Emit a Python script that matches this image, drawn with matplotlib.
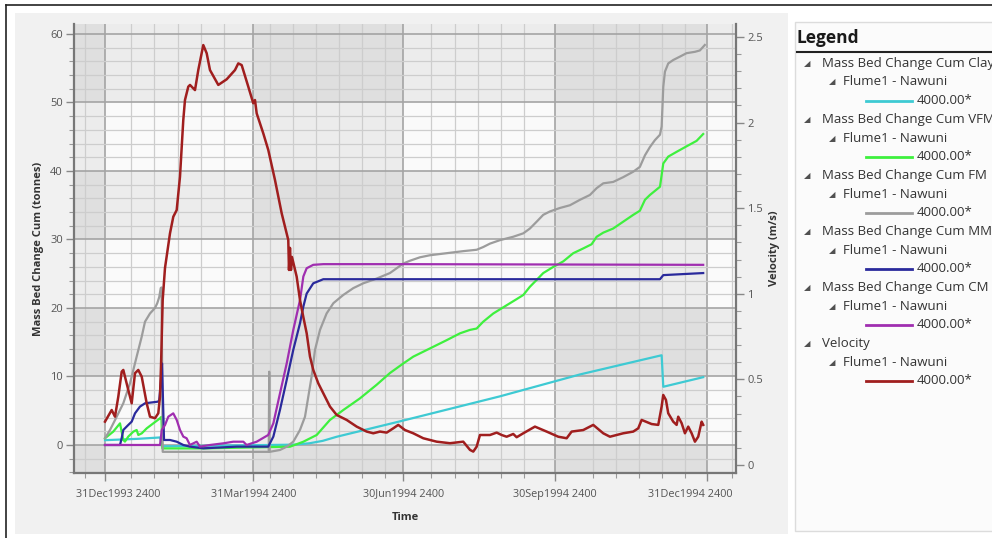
import numpy as np
import matplotlib
matplotlib.use("Agg")
import matplotlib.pyplot as plt
import matplotlib.dates as mdates
from matplotlib.patches import Rectangle
from matplotlib.lines import Line2D
from matplotlib.ticker import FixedLocator, MultipleLocator, FuncFormatter
import datetime as dt

plt.rcParams['font.family'] = ['Open Sans', 'DejaVu Sans']

# ---------------- data (days after 31Dec1993 2400) ----------------
clay_day = [0, 10, 20, 33.5, 34.5, 100, 115, 124, 132, 140.5, 178.9, 239.5, 288.1, 337.6, 338.6, 362.8]
clay = [0.7, 0.8, 0.9, 1.1, -0.2, 0.0, 0.05, 0.25, 0.6, 1.2, 3.45, 7.1, 10.3, 13.1, 8.5, 9.9]

vfm_day = [0, 5.0, 9.1, 10.1, 11.1, 12.1, 14.1, 17.2, 19.2, 20.2, 22.3, 25.3, 29.3, 33.4, 34.2,
           34.8, 60, 100, 112.2, 120.3, 128.4, 136.4, 144.5, 154.6, 164.8, 172.8, 180.9, 187.0,
           197.1, 207.2, 215.3, 221.3, 225.4, 229.4, 235.5, 243.6, 249.7, 253.7, 257.7, 261.8,
           265.8, 271.9, 277.9, 284.0, 290.1, 295.1, 298.2, 302.2, 308.2, 314.3, 320.4, 324.4,
           327.5, 330.5, 336.6, 338.6, 341.6, 346.7, 352.7, 358.8, 362.8]
vfm = [0.98, 1.95, 3.16, 1.95, 0.73, 0.49, 1.22, 1.95, 2.19, 1.46, 1.70, 2.43, 3.16, 3.90, 4.1,
       -0.5, -0.5, -0.3, -0.25, 0.48, 1.46, 3.65, 5.1, 6.8, 8.8, 10.5, 11.9, 12.9,
       14.1, 15.3, 16.3, 16.8, 17.0, 18.0, 19.2, 20.4, 21.3, 21.9, 23.1, 24.1,
       25.1, 26.0, 26.8, 28.0, 28.7, 29.3, 30.4, 31.0, 31.6, 32.6, 33.6, 34.2,
       35.8, 36.5, 37.7, 41.1, 42.1, 42.8, 43.6, 44.4, 45.4]

fm_day = [0, 3.03, 7.1, 11.1, 15.16, 19.2, 22.26, 24.26, 27.29, 30.32, 31.7, 32.9, 33.8, 34.3, 35.0,
          99.3, 99.6, 99.9, 106.1, 110.2, 114.2, 118.25, 121.3, 123.3, 125.3, 127.35, 130.4, 134.4,
          138.5, 144.5, 150.6, 156.6, 164.8, 172.8, 176.9, 180.9, 185.0, 191.0, 197.1, 207.2, 217.3,
          225.4, 229.4, 233.5, 239.5, 247.6, 253.7, 257.7, 261.8, 265.8, 269.9, 275.9, 282.0, 288.1,
          294.1, 298.2, 302.2, 308.2, 314.3, 320.4, 324.4, 327.5, 330.5, 333.5, 336.6, 337.6, 338.6,
          339.6, 341.6, 344.6, 348.7, 352.7, 357.8, 360.8, 363.8]
fm = [0.98, 2.19, 4.13, 6.09, 9.0, 12.9, 15.8, 18.0, 19.2, 20.0, 20.7, 21.6, 22.9, 23.0, -1.0,
      -1.0, 10.7, -1.0, -0.73, -0.25, 0.48, 2.19, 4.13, 7.05, 9.97, 13.87, 16.8, 19.2,
      20.7, 21.9, 22.9, 23.6, 24.3, 25.1, 25.8, 26.5, 26.9, 27.4, 27.7, 28.0, 28.3,
      28.5, 28.9, 29.4, 29.9, 30.4, 30.9, 31.6, 32.6, 33.6, 34.1, 34.6, 35.0, 35.8,
      36.5, 37.5, 38.2, 38.4, 39.1, 39.9, 40.6, 42.3, 43.5, 44.5, 45.3, 46.5, 52.3,
      54.5, 55.7, 56.2, 56.7, 57.2, 57.4, 57.6, 58.4]

mm_day = [0, 9.1, 10.1, 11.1, 14.1, 16.2, 18.2, 21.2, 24.3, 32.3, 32.9, 33.8, 34.6, 35.8, 39.4,
          43.5, 47.5, 51.5, 59.6, 79.9, 99.0, 102.1, 106.1, 110.2, 114.2, 118.3, 120.3, 122.3,
          126.3, 132.4, 178.9, 336.6, 338.6, 362.8]
mm = [0, 0, 0.98, 2.19, 2.92, 3.41, 4.62, 5.6, 6.09, 6.33, 6.57, 9.0, 11.9, 0.73, 0.73,
      0.48, 0, -0.24, -0.49, -0.24, -0.24, 1.22, 5.1, 9.5, 13.9, 17.8, 20.2, 22.1,
      23.6, 24.2, 24.2, 24.2, 24.8, 25.1]

cm_day = [0, 33.4, 34.4, 36.4, 38.4, 41.4, 43.5, 45.5, 47.5, 49.5, 51.5, 55.6, 57.6, 63.7, 71.7,
          77.8, 83.9, 85.9, 92.0, 99.0, 102.1, 106.1, 110.2, 114.2, 118.3, 120.3, 122.3, 126.3,
          132.4, 178.9, 362.8]
cm = [0, 0, 2.19, 2.92, 4.13, 4.62, 3.65, 2.19, 1.22, 0.98, 0, 0.48, -0.24, 0, 0.24,
      0.48, 0.48, 0, 0.48, 1.46, 3.16, 7.5, 11.9, 16.8, 21.2, 24.6, 25.8, 26.3,
      26.4, 26.4, 26.3]

vel_day = [0, 4.06, 6.06, 8.07, 10.13, 11.10, 14.13, 16.19, 18.19, 20.19, 22.26, 25.29, 27.29,
           30.32, 32.32, 33.35, 33.96, 34.99, 36.39, 39.42, 41.42, 43.48, 45.48, 47.48, 48.51,
           50.52, 51.55, 53.55, 54.58, 56.58, 59.61, 61.67, 63.67, 68.71, 73.80, 78.84, 80.84,
           82.90, 86.90, 89.93, 90.96, 92.00, 96.00, 99.03, 103.09, 107.16, 111.16, 111.58,
           112.19, 112.80, 113.40, 116.25, 118.25, 120.25, 122.32, 124.32, 126.32, 129.35,
           132.38, 136.45, 140.51, 146.57, 152.64, 158.70, 162.71, 166.77, 170.83, 174.83,
           177.87, 181.93, 186.96, 193.03, 201.15, 209.22, 217.28, 221.35, 223.35, 225.41,
           227.41, 233.48, 237.54, 240.57, 243.60, 247.60, 249.67, 253.67, 260.76, 267.86,
           274.89, 279.99, 283.02, 290.05, 296.12, 302.18, 306.25, 314.31, 320.38, 323.41,
           325.47, 331.53, 335.54, 337.60, 338.57, 340.21, 341.60, 344.63, 346.69, 347.66,
           349.73, 351.73, 353.73, 355.79, 357.79, 359.79, 361.85, 362.82]
vel = [0.253, 0.321, 0.282, 0.399, 0.545, 0.555, 0.438, 0.360, 0.536, 0.555, 0.516, 0.360, 0.282,
       0.273, 0.302, 0.399, 0.574, 0.964, 1.151, 1.353, 1.450, 1.489, 1.684, 2.015, 2.132,
       2.210, 2.220, 2.200, 2.190, 2.307, 2.453, 2.405, 2.307, 2.220, 2.253, 2.307, 2.346,
       2.336, 2.210, 2.113, 2.132, 2.054, 1.937, 1.840, 1.665, 1.470, 1.314, 1.139,
       1.268, 1.139, 1.215, 1.100, 0.964, 0.866, 0.769, 0.633, 0.555, 0.477,
       0.419, 0.341, 0.292, 0.263, 0.224, 0.195, 0.185, 0.195, 0.189, 0.214,
       0.234, 0.204, 0.185, 0.156, 0.136, 0.127, 0.136, 0.088, 0.078, 0.107,
       0.175, 0.175, 0.189, 0.175, 0.165, 0.181, 0.162, 0.185, 0.224, 0.195,
       0.165, 0.156, 0.195, 0.204, 0.234, 0.185, 0.165, 0.185, 0.195, 0.214,
       0.263, 0.239, 0.234, 0.341, 0.409, 0.380, 0.302, 0.253, 0.234, 0.282,
       0.244, 0.185, 0.224, 0.185, 0.136, 0.165, 0.253, 0.234]

xtick_dates = [dt.datetime(1994, 1, 1), dt.datetime(1994, 4, 1), dt.datetime(1994, 7, 1),
               dt.datetime(1994, 10, 1), dt.datetime(1995, 1, 1)]
xtick_labels = ["31Dec1993 2400", "31Mar1994 2400", "30Jun1994 2400", "30Sep1994 2400", "31Dec1994 2400"]

legend_groups = ["Mass Bed Change Cum Clay", "Mass Bed Change Cum VFM", "Mass Bed Change Cum FM",
                 "Mass Bed Change Cum MM", "Mass Bed Change Cum CM", "Velocity"]
legend_sub = "Flume1 - Nawuni"
legend_val = "4000.00*"

colors = ['#3ecad3', '#3ef03e', '#9c9c9c', '#2a2a9c', '#a02eb0', '#a01e1e']

# ---------------- figure ----------------
W, H = 992, 538
START = dt.datetime(1994, 1, 1)
BASE = mdates.date2num(START)


def to_num(days):
    return BASE + np.asarray(days, float)


fig = plt.figure(figsize=(W / 100, H / 100), dpi=100)
fig.patch.set_facecolor('white')


def px_rect(x0, y0, x1, y1, **kw):
    fig.add_artist(Rectangle((x0 / W, 1 - y1 / H), (x1 - x0) / W, (y1 - y0) / H,
                             transform=fig.transFigure, **kw))


px_rect(15, 13, 788, 534, facecolor='#f1f1f1', edgecolor='none', zorder=0)
px_rect(795, 22, 1000, 531, facecolor='#fbfbfb', edgecolor='#dcdcdc', lw=1, zorder=0)
fig.add_artist(Line2D([6 / W, 6 / W], [0, 1 - 5 / H], transform=fig.transFigure, color='#222222', lw=1.2))
fig.add_artist(Line2D([6 / W, 1], [1 - 5 / H, 1 - 5 / H], transform=fig.transFigure, color='#222222', lw=1.2))

ax = fig.add_axes([74 / W, 1 - 473 / H, (736 - 74) / W, (473 - 24) / H])
ax.set_facecolor('#fafafa')
xmin, xmax = to_num(-18.8), to_num(382.7)
ax.set_xlim(xmin, xmax)
ax.set_ylim(-4.09, 61.46)

# alternating bands
qn = [mdates.date2num(d) for d in xtick_dates]
for a, b in [(xmin, qn[0]), (qn[1], qn[2]), (qn[3], qn[4])]:
    ax.axvspan(a, b, color='black', alpha=0.055, lw=0, zorder=0.1)
for a, b in [(50, 61.46), (30, 40), (10, 20), (-4.09, 0)]:
    ax.axhspan(a, b, color='black', alpha=0.055, lw=0, zorder=0.1)

# ticks / grid
minor_x = []
d = dt.datetime(1993, 12, 20)
while d <= dt.datetime(1995, 1, 18):
    n = mdates.date2num(d)
    if min(abs(n - q) for q in qn) > 9:
        minor_x.append(n)
    d += dt.timedelta(days=14)
ax.xaxis.set_major_locator(FixedLocator(qn))
ax.xaxis.set_minor_locator(FixedLocator(minor_x))
ax.yaxis.set_major_locator(MultipleLocator(10))
ax.yaxis.set_minor_locator(MultipleLocator(2))
ax.set_axisbelow(True)
ax.grid(which='major', color='#a4a4a4', lw=1.2)
ax.grid(which='minor', color='#cdcdcd', lw=0.9)
ax.tick_params(axis='x', labelbottom=False)
ax.tick_params(which='major', length=6, width=1, color='#888888')
ax.tick_params(which='minor', length=3.5, width=0.8, color='#999999')
ax.tick_params(axis='y', labelsize=8, labelcolor='#555555', pad=2)
ax.spines['top'].set_visible(False)
ax.spines['right'].set_visible(False)
for s in ['left', 'bottom']:
    ax.spines[s].set_color('#777777')
    ax.spines[s].set_linewidth(1.6)

# series
for xs, ys, c in [(clay_day, clay, colors[0]), (vfm_day, vfm, colors[1]), (fm_day, fm, colors[2]),
                  (mm_day, mm, colors[3]), (cm_day, cm, colors[4])]:
    ax.plot(to_num(xs), ys, color=c, lw=1.6, zorder=3, solid_joinstyle='round')

ax2 = ax.twinx()
ax2.set_ylim(-0.047, 2.576)
ax2.set_xlim(xmin, xmax)
ax2.plot(to_num(vel_day), vel, color=colors[5], lw=1.8, zorder=3, solid_joinstyle='round')
ax2.yaxis.set_major_locator(MultipleLocator(0.5))
ax2.yaxis.set_minor_locator(MultipleLocator(0.1))
ax2.yaxis.set_major_formatter(FuncFormatter(lambda v, p: f"{v:g}"))
ax2.tick_params(which='major', length=6, width=1, color='#888888', labelsize=8, labelcolor='#555555', pad=2)
ax2.tick_params(which='minor', length=3.5, width=0.8, color='#999999')
for s in ['top', 'left', 'bottom']:
    ax2.spines[s].set_visible(False)
ax2.spines['right'].set_color('#777777')
ax2.spines['right'].set_linewidth(1.6)

# labels
ax.set_ylabel('Mass Bed Change Cum (tonnes)', fontsize=8, fontweight='bold', color='#333333')
ax.yaxis.set_label_coords(-0.046, 0.5)
ax2.set_ylabel('Velocity (m/s)', fontsize=8, fontweight='bold', color='#333333')
ax2.yaxis.set_label_coords(1.0506, 0.5)
ax.set_xlabel('Time', fontsize=8, fontweight='bold', color='#333333')
ax.xaxis.set_label_coords(0.5, -0.087)

xt = []
for q, lab in zip(qn, xtick_labels):
    xt.append(ax.text(q, -0.0468, lab, transform=ax.get_xaxis_transform(), ha='center', va='center',
                      fontsize=7.8, color='#555555'))


# legend panel
def fx(x):
    return x / W


def fy(y):
    return 1 - y / H


fig.text(fx(797), fy(38), 'Legend', fontsize=12.5, fontweight='bold', color='#1a1a1a', va='center', ha='left')
fig.add_artist(Line2D([fx(797), 1], [fy(52), fy(52)], transform=fig.transFigure, color='#222222', lw=1.5))
step = 18.68
for i, (g, c) in enumerate(zip(legend_groups, colors)):
    y1 = 63.3 + i * 3 * step
    y2 = y1 + step
    y3 = y2 + step
    fig.text(fx(807), fy(y1), '\u25e2', fontsize=6, color='#505050', va='center', ha='center',
             family=['DejaVu Sans'])
    fig.text(fx(822), fy(y1), g, fontsize=9.5, color='#333333', va='center', ha='left')
    fig.text(fx(832), fy(y2), '\u25e2', fontsize=6, color='#505050', va='center', ha='center',
             family=['DejaVu Sans'])
    fig.text(fx(843), fy(y2), legend_sub, fontsize=9.5, color='#333333', va='center', ha='left')
    fig.add_artist(Line2D([fx(866), fx(912)], [fy(y3), fy(y3)], transform=fig.transFigure, color=c, lw=2))
    fig.text(fx(917), fy(y3), legend_val, fontsize=9.5, color='#333333', va='center', ha='left')

# keep x tick labels inside the plot width
fig.canvas.draw()
r = fig.canvas.get_renderer()
axbb = ax.get_window_extent(r)
for t in xt:
    bb = t.get_window_extent(r)
    dx = 0
    if bb.x0 < axbb.x0 + 2:
        dx = axbb.x0 + 2 - bb.x0
    elif bb.x1 > axbb.x1 - 3:
        dx = axbb.x1 - 3 - bb.x1
    if dx:
        t.set_x(t.get_position()[0] + dx / axbb.width * (xmax - xmin))

fig.savefig('out.png', dpi=100, facecolor=fig.get_facecolor())
